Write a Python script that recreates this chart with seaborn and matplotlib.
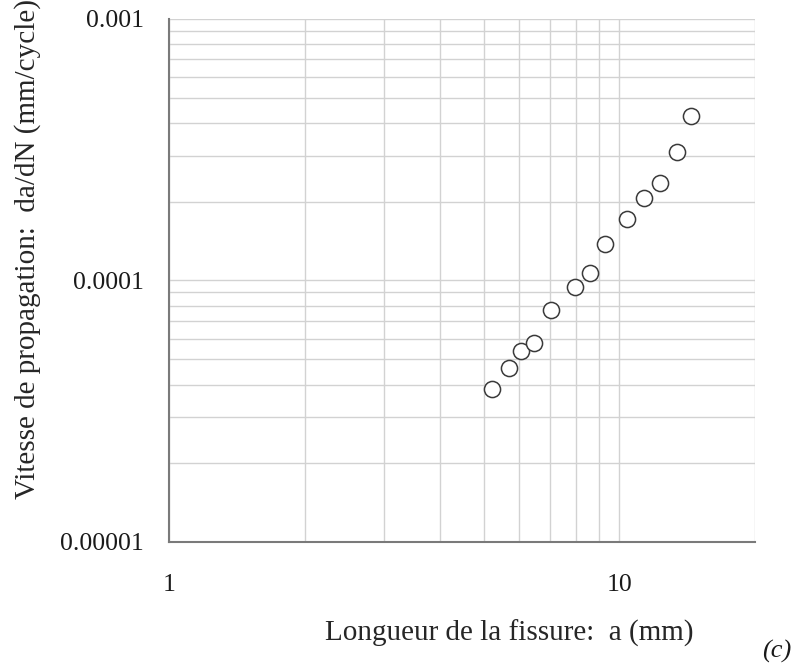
import matplotlib
matplotlib.use("Agg")
import matplotlib.pyplot as plt
import matplotlib.ticker as mticker
import numpy as np
import pandas as pd
import seaborn as sns

# crack length (mm) and growth rate (mm/cycle)
crack_length = [5.21, 5.68, 6.05, 6.46, 7.06, 7.97, 8.60, 9.31, 10.42, 11.35, 12.30, 13.45, 14.45]
growth_rate = [3.83e-5, 4.63e-5, 5.39e-5, 5.75e-5, 7.72e-5, 9.47e-5, 1.07e-4, 1.38e-4,
               1.72e-4, 2.07e-4, 2.35e-4, 3.11e-4, 4.27e-4]

x_ticks = [1, 10]
x_tick_labels = ["1", "10"]
y_ticks = [1e-5, 1e-4, 1e-3]
y_tick_labels = ["0.00001", "0.0001", "0.001"]

df = pd.DataFrame({"a": crack_length, "dadN": growth_rate})

sns.set_style("white")
plt.rcParams["font.family"] = ["Liberation Serif", "DejaVu Serif"]
plt.rcParams["text.color"] = "#1a1a1a"

fig = plt.figure(figsize=(7.94, 6.66), dpi=100)
ax = fig.add_axes([0.2128, 0.1862, 0.738, 0.7853])

sns.scatterplot(data=df, x="a", y="dadN", ax=ax, s=135, marker="o",
                facecolor="white", edgecolor="#3a3a3a", linewidth=1.1, zorder=3)

ax.set_xscale("log")
ax.set_yscale("log")
ax.set_xlim(1, 20)
ax.set_ylim(1e-5, 1e-3)

ax.xaxis.set_major_locator(mticker.FixedLocator(x_ticks))
ax.xaxis.set_major_formatter(mticker.FixedFormatter(x_tick_labels))
ax.xaxis.set_minor_locator(mticker.LogLocator(base=10, subs=np.arange(2, 10)))
ax.xaxis.set_minor_formatter(mticker.NullFormatter())
ax.yaxis.set_major_locator(mticker.FixedLocator(y_ticks))
ax.yaxis.set_major_formatter(mticker.FixedFormatter(y_tick_labels))
ax.yaxis.set_minor_locator(mticker.LogLocator(base=10, subs=np.arange(2, 10)))
ax.yaxis.set_minor_formatter(mticker.NullFormatter())

ax.grid(True, which="both", color="#d2d2d2", linewidth=1.0)
ax.set_axisbelow(True)

for side in ["top", "right"]:
    ax.spines[side].set_visible(False)
for side in ["left", "bottom"]:
    ax.spines[side].set_color("#7a7a7a")
    ax.spines[side].set_linewidth(1.5)

ax.tick_params(axis="both", which="major", direction="in", length=6, width=1.2,
               color="#555555", labelsize=18.5, labelcolor="#1a1a1a")
ax.tick_params(axis="both", which="minor", direction="in", length=4, width=1.0,
               color="#555555")
ax.tick_params(axis="x", which="major", pad=23)
ax.tick_params(axis="y", which="major", pad=18)

ax.set_xlabel("Longueur de la fissure:  a (mm)", fontsize=21)
ax.set_ylabel("Vitesse de propagation:  da/dN (mm/cycle)", fontsize=21)
ax.xaxis.label.set_va("center")
ax.yaxis.label.set_va("center")
ax.xaxis.set_label_coords(0.58, -0.174)
ax.yaxis.set_label_coords(-0.242, 0.56)

fig.text(0.997, 0.004, "(c)", fontsize=19, style="italic", ha="right", va="bottom")

fig.savefig("out.png", dpi=100)
